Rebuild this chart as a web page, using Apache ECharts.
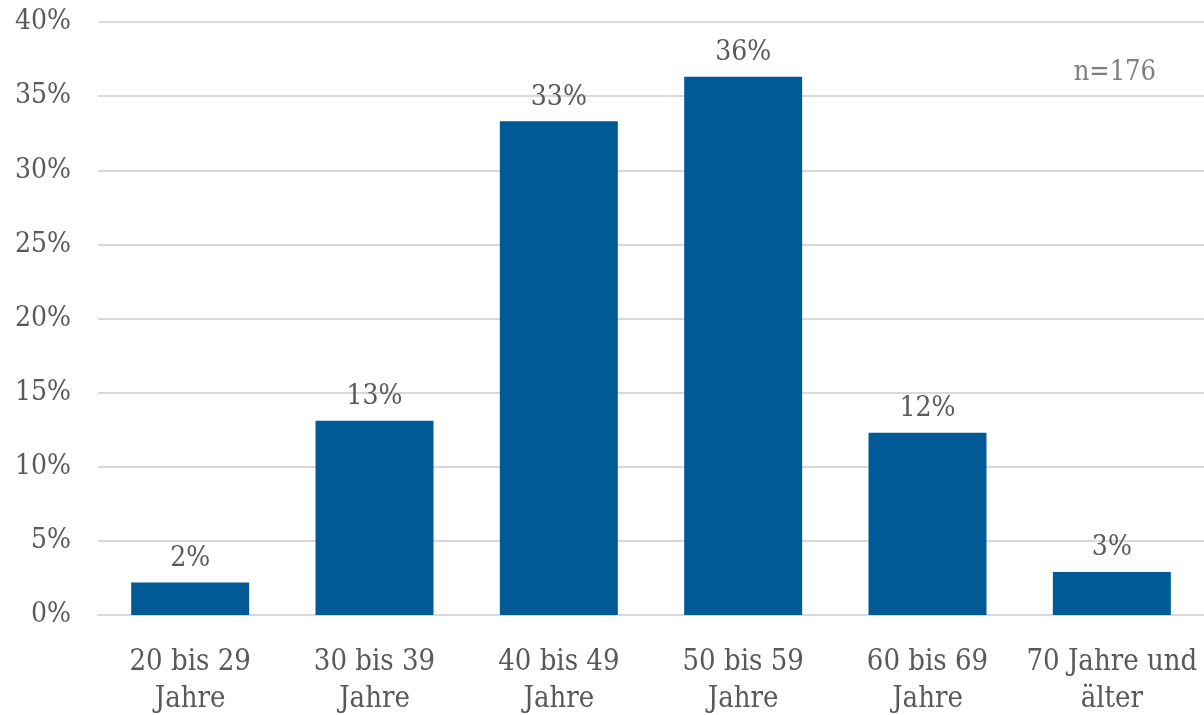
<!DOCTYPE html>
<html>
<head>
<meta charset="utf-8">
<script src="https://cdn.jsdelivr.net/npm/echarts@6/dist/echarts.min.js"></script>
<style>
  html, body { margin: 0; padding: 0; background: #ffffff; }
  #chart { width: 1204px; height: 715px; }
</style>
</head>
<body>
<div id="chart"></div>
<script>
// Age groups of respondents (share in percent)
const categories = ['20 bis 29\nJahre', '30 bis 39\nJahre', '40 bis 49\nJahre', '50 bis 59\nJahre', '60 bis 69\nJahre', '70 Jahre und\nälter'];
const shares = [2.2, 13.1, 33.3, 36.3, 12.3, 2.9];
const sampleNote = 'n=176';

const FONT = '"DejaVu Serif Condensed", "DejaVu Serif", serif';
const TEXT = '#595959';

const chart = echarts.init(document.getElementById('chart'));
chart.setOption({
  animation: false,
  grid: { left: 98, right: 0, top: 22, bottom: 100, containLabel: false, outerBoundsMode: 'none' },
  xAxis: {
    type: 'category',
    data: categories,
    axisLine: { show: true, lineStyle: { color: '#d9d9d9', width: 2 } },
    axisTick: { show: false },
    axisLabel: {
      color: TEXT, fontFamily: FONT, fontSize: 29, lineHeight: 37,
      margin: 29, interval: 0
    }
  },
  yAxis: {
    type: 'value',
    min: 0, max: 40, interval: 5,
    axisLine: { show: false },
    axisTick: { show: false },
    splitLine: { lineStyle: { color: '#d9d9d9', width: 2 } },
    axisLabel: {
      color: TEXT, fontFamily: FONT, fontSize: 28, margin: 27,
      formatter: v => v + '%'
    }
  },
  series: [{
    type: 'bar',
    data: shares,
    barWidth: '64%',
    itemStyle: { color: '#005a96' },
    label: {
      show: true, position: 'top', distance: 10,
      color: TEXT, fontFamily: FONT, fontSize: 28,
      formatter: p => Math.round(p.value) + '%'
    }
  }],
  graphic: [{
    type: 'text',
    right: 48, top: 59,
    style: { text: sampleNote, fill: '#7f7f7f', font: '27px ' + FONT }
  }]
});
</script>
</body>
</html>
